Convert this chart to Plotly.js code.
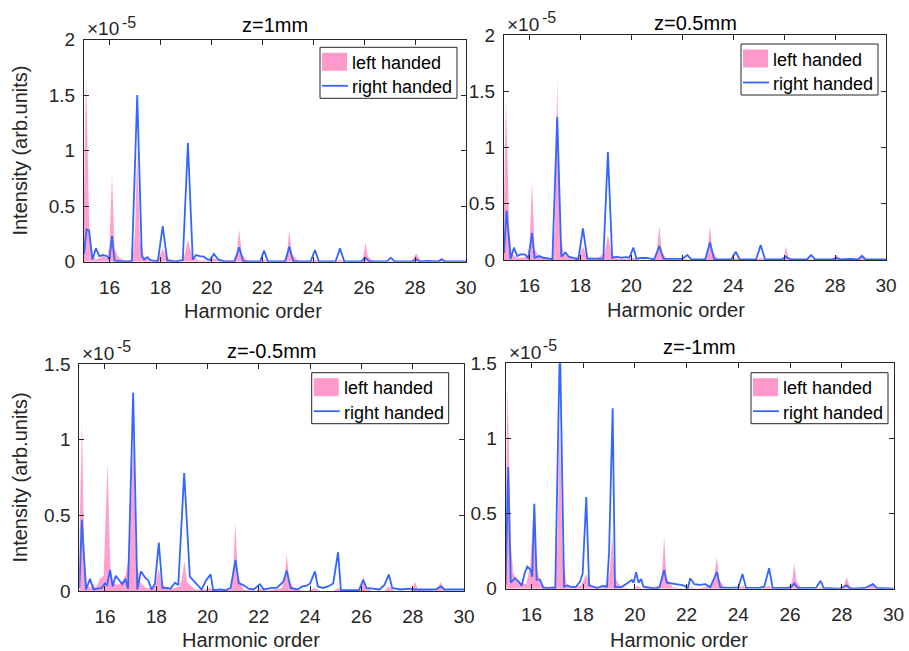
<!DOCTYPE html>
<html>
<head>
<meta charset="utf-8">
<script src="https://cdn.plot.ly/plotly-3.0.1.min.js"></script>
<style>html,body{margin:0;padding:0;background:#fff;}#chart{width:909px;height:651px;}</style>
</head>
<body>
<div id="chart"></div>
<script>
// ---------- data (intensity in units of 1e-5 arb.units) ----------
const panelTitles = ["z=1mm", "z=0.5mm", "z=-0.5mm", "z=-1mm"];
const seriesNames = ["left handed", "right handed"];
const xTickVals = [16, 18, 20, 22, 24, 26, 28, 30];

// z = 1 mm
const hL1 = [15.0,15.08,15.2,15.3,15.45,15.6,15.75,15.9,16.0,16.1,16.2,16.35,16.5,16.7,16.9,17.0,17.09,17.2,17.35,17.5,17.8,17.95,18.09,18.25,18.5,18.8,18.95,19.08,19.25,19.5,19.9,20.1,20.3,20.85,21.0,21.09,21.2,21.4,21.9,22.07,22.3,22.85,22.98,23.06,23.16,23.4,23.9,24.07,24.3,24.9,25.05,25.3,25.85,25.97,26.05,26.14,26.4,26.9,27.05,27.3,27.85,28.04,28.25,28.85,29.04,29.25,30];
const iL1 = [0.6,1.70,0.35,0.08,0.02,0.03,0.05,0.03,0.15,0.78,0.12,0.04,0.02,0.01,0.02,0.25,1.0,0.2,0.05,0.02,0.01,0.04,0.12,0.04,0.01,0.01,0.06,0.2,0.05,0.01,0.01,0.03,0.01,0.01,0.08,0.29,0.07,0.01,0.0,0.02,0.0,0.01,0.08,0.29,0.07,0.01,0.0,0.02,0.0,0.0,0.02,0.0,0.0,0.05,0.17,0.05,0.0,0.0,0.01,0.0,0.0,0.075,0.0,0.0,0.036,0.0,0.0];
const hR1 = [15.0,15.1,15.2,15.33,15.47,15.6,15.76,15.9,16.0,16.1,16.2,16.5,16.88,17.09,17.27,17.36,17.49,17.6,17.9,18.09,18.27,18.6,18.88,19.08,19.27,19.4,19.55,19.7,19.85,19.95,20.1,20.27,20.5,20.92,21.09,21.25,21.92,22.07,22.22,22.9,23.06,23.22,23.9,24.07,24.22,24.88,25.05,25.22,25.9,26.05,26.2,26.9,27.05,27.2,27.9,28.04,28.2,28.5,28.9,29.04,29.2,30];
const iR1 = [0.07,0.29,0.28,0.02,0.12,0.05,0.06,0.05,0.02,0.23,0.01,0.003,0.003,1.50,0.05,0.02,0.04,0.015,0.003,0.32,0.01,0.003,0.015,1.07,0.02,0.06,0.05,0.045,0.02,0.015,0.07,0.02,0.003,0.003,0.13,0.003,0.003,0.10,0.003,0.003,0.135,0.003,0.003,0.105,0.003,0.003,0.12,0.003,0.003,0.036,0.003,0.003,0.036,0.003,0.003,0.02,0.003,0.008,0.003,0.02,0.003,0.003];

// z = 0.5 mm
const hL2 = [15.0,15.08,15.2,15.3,15.5,15.7,15.9,16.0,16.1,16.2,16.3,16.45,16.7,16.9,17.0,17.09,17.2,17.35,17.5,17.7,17.95,18.1,18.25,18.6,18.95,19.08,19.25,19.5,19.9,20.08,20.3,20.9,21.0,21.1,21.2,21.4,21.9,22.1,22.3,22.9,23.0,23.09,23.18,23.4,23.9,24.1,24.3,24.9,25.08,25.3,25.9,26.0,26.07,26.15,26.4,26.9,27.06,27.3,27.85,28.05,28.25,28.85,29.06,29.25,30];
const iL2 = [0.5,1.44,0.3,0.06,0.02,0.02,0.03,0.12,0.70,0.1,0.06,0.02,0.01,0.02,0.3,1.6,0.25,0.05,0.03,0.01,0.04,0.12,0.03,0.01,0.06,0.22,0.04,0.01,0.01,0.02,0.0,0.0,0.08,0.30,0.07,0.01,0.0,0.01,0.0,0.0,0.09,0.31,0.08,0.01,0.0,0.02,0.0,0.0,0.02,0.0,0.0,0.03,0.125,0.03,0.0,0.0,0.01,0.0,0.0,0.044,0.0,0.0,0.053,0.0,0.0];
const hR2 = [15.0,15.1,15.26,15.39,15.52,15.65,15.82,15.96,16.1,16.2,16.39,16.54,16.74,16.9,17.09,17.25,17.41,17.54,17.72,17.92,18.1,18.27,18.6,18.9,19.08,19.25,19.42,19.6,19.8,19.92,20.08,20.2,20.4,20.6,20.9,21.1,21.26,21.6,22.0,22.2,22.35,22.9,23.09,23.25,23.92,24.1,24.25,24.9,25.08,25.25,25.9,26.07,26.25,26.9,27.06,27.22,27.9,28.05,28.2,28.6,28.9,29.06,29.2,30];
const iR2 = [0.06,0.44,0.01,0.11,0.035,0.05,0.05,0.015,0.24,0.02,0.035,0.02,0.015,0.005,1.27,0.03,0.065,0.03,0.018,0.006,0.28,0.012,0.012,0.01,0.96,0.02,0.03,0.02,0.025,0.02,0.11,0.012,0.018,0.018,0.006,0.125,0.012,0.01,0.01,0.045,0.005,0.005,0.157,0.005,0.005,0.074,0.005,0.005,0.133,0.005,0.005,0.03,0.005,0.005,0.044,0.005,0.005,0.018,0.005,0.01,0.005,0.036,0.005,0.005];

// z = -0.5 mm
const hL3 = [15.0,15.1,15.2,15.3,15.45,15.55,15.65,15.8,15.95,16.1,16.22,16.35,16.5,16.65,16.8,16.95,17.1,17.22,17.4,17.6,17.9,18.0,18.1,18.2,18.5,18.9,19.0,19.1,19.2,19.5,19.9,20.1,20.3,20.9,21.0,21.08,21.18,21.4,21.9,22.05,22.3,22.9,23.0,23.09,23.18,23.4,23.9,24.19,24.4,24.9,25.09,25.3,25.9,26.0,26.07,26.15,26.4,26.9,27.07,27.3,27.9,28.0,28.09,28.2,28.9,29.1,29.25,30];
const iL3 = [0.3,1.12,0.2,0.04,0.02,0.05,0.02,0.08,0.1,0.85,0.12,0.05,0.04,0.06,0.1,0.25,1.0,0.2,0.05,0.02,0.02,0.06,0.15,0.05,0.01,0.03,0.08,0.2,0.06,0.01,0.01,0.02,0.0,0.01,0.12,0.46,0.1,0.01,0.0,0.02,0.0,0.02,0.08,0.245,0.07,0.01,0.0,0.02,0.0,0.0,0.02,0.0,0.0,0.03,0.105,0.03,0.0,0.0,0.03,0.0,0.0,0.02,0.062,0.01,0.0,0.06,0.0,0.0];
const hR3 = [15.0,15.1,15.26,15.42,15.55,15.74,15.87,16.0,16.08,16.2,16.3,16.42,16.55,16.68,16.8,16.9,17.1,17.26,17.4,17.56,17.69,17.82,17.95,18.1,18.24,18.4,18.55,18.73,18.86,19.09,19.31,19.44,19.6,19.77,19.94,20.12,20.22,20.5,20.7,20.9,21.09,21.22,21.4,21.6,21.8,22.04,22.2,22.5,22.7,22.95,23.09,23.24,23.5,23.7,23.87,24.0,24.19,24.3,24.5,24.7,24.9,25.09,25.2,25.9,26.07,26.2,26.7,26.9,27.07,27.2,27.5,27.9,28.09,28.5,28.9,29.1,29.25,30];
const iR3 = [0.02,0.47,0.01,0.08,0.01,0.015,0.02,0.05,0.04,0.14,0.03,0.10,0.07,0.045,0.08,0.015,1.31,0.01,0.13,0.09,0.07,0.01,0.05,0.32,0.02,0.02,0.015,0.055,0.04,0.78,0.095,0.07,0.045,0.01,0.07,0.11,0.005,0.01,0.005,0.02,0.205,0.05,0.04,0.015,0.01,0.045,0.01,0.02,0.02,0.06,0.135,0.02,0.01,0.03,0.035,0.05,0.13,0.03,0.02,0.03,0.05,0.256,0.005,0.005,0.073,0.02,0.01,0.04,0.11,0.02,0.01,0.015,0.01,0.01,0.01,0.03,0.01,0.01];

// z = -1 mm
const hL4 = [15.0,15.08,15.2,15.3,15.45,15.6,15.8,15.95,16.1,16.2,16.35,16.6,16.9,17.0,17.1,17.2,17.35,17.6,17.9,18.0,18.12,18.25,18.6,18.9,19.02,19.12,19.22,19.45,19.9,20.1,20.3,20.95,21.05,21.13,21.22,21.45,21.9,22.14,22.4,22.95,23.07,23.17,23.27,23.5,23.9,24.16,24.4,24.9,25.19,25.4,25.95,26.08,26.16,26.25,26.45,27.0,27.18,27.4,27.95,28.08,28.19,28.3,28.5,28.95,29.2,29.4,30];
const iL4 = [0.5,1.34,0.3,0.1,0.06,0.04,0.03,0.15,0.58,0.15,0.03,0.01,0.02,0.3,1.1,0.25,0.03,0.01,0.02,0.05,0.1,0.03,0.0,0.03,0.1,0.36,0.08,0.01,0.0,0.02,0.0,0.02,0.1,0.35,0.08,0.01,0.0,0.01,0.0,0.02,0.08,0.21,0.06,0.0,0.0,0.02,0.0,0.0,0.02,0.0,0.01,0.05,0.17,0.05,0.0,0.0,0.01,0.0,0.0,0.02,0.075,0.02,0.0,0.0,0.04,0.0,0.0];
const hR4 = [15.0,15.1,15.2,15.36,15.49,15.62,15.75,15.84,15.97,16.03,16.11,16.2,16.33,16.46,16.92,17.1,17.26,17.39,17.55,17.72,17.88,17.98,18.12,18.23,18.4,18.55,18.75,18.92,19.0,19.14,19.23,19.5,19.69,19.88,19.95,20.05,20.14,20.24,20.33,20.55,20.8,20.95,21.13,21.23,21.42,21.69,21.88,22.05,22.14,22.3,22.5,22.73,22.91,23.17,23.3,23.7,24.0,24.16,24.3,24.8,25.0,25.19,25.33,25.9,26.05,26.16,26.3,27.0,27.18,27.3,27.9,28.19,28.32,28.9,29.2,29.35,30];
const iR4 = [0.03,0.81,0.04,0.07,0.05,0.02,0.11,0.147,0.125,0.08,0.565,0.06,0.06,0.005,0.005,1.65,0.013,0.022,0.01,0.013,0.047,0.1,0.61,0.022,0.013,0.005,0.018,0.013,0.24,1.2,0.009,0.013,0.035,0.058,0.04,0.11,0.04,0.065,0.013,0.009,0.0,0.009,0.125,0.04,0.035,0.03,0.022,0.005,0.07,0.03,0.025,0.03,0.009,0.11,0.009,0.005,0.009,0.098,0.005,0.005,0.013,0.136,0.005,0.005,0.013,0.035,0.005,0.005,0.053,0.005,0.0,0.022,0.0,0.005,0.03,0.005,0.0];

const yMax = [2, 2, 1.5, 1.5];

// ---------- layout geometry (pixels in a 909 x 651 page) ----------
const W = 909, H = 651;
const fx = v => v / W;
const fy = v => 1 - v / H;
const boxes = [
  {l: 84,    r: 466,   t: 39.5,  b: 261.7},
  {l: 504,   r: 886,   t: 35,    b: 260},
  {l: 79.3,  r: 464,   t: 364,   b: 591},
  {l: 505.6, r: 893.5, t: 363.3, b: 588.7}
];
const legendBoxes = [
  {l: 320,   t: 47.3},
  {l: 741,   t: 44},
  {l: 311.7, t: 372.7},
  {l: 751,   t: 372.7}
];
const LEG_W = 137, LEG_H = 51;
const titleY = [31, 29, 356.7, 353.3];
const xLabelX = [252.5, 676, 251, 679];
const xLabelY = [316.7, 316, 646, 646];

const FONT = "Liberation Sans, Arial, Helvetica, sans-serif";
const INK = "#262626";
const PINK = "rgba(255,135,195,0.78)";
const PINK_PATCH = "#ff99cc";
const BLUE = "#3366ff";

const series = [
  {hL: hL1, iL: iL1, hR: hR1, iR: iR1},
  {hL: hL2, iL: iL2, hR: hR2, iR: iR2},
  {hL: hL3, iL: iL3, hR: hR3, iR: iR3},
  {hL: hL4, iL: iL4, hR: hR4, iR: iR4}
];

const data = [];
const layout = {
  width: W, height: H,
  margin: {l: 0, r: 0, t: 0, b: 0},
  paper_bgcolor: "#fff", plot_bgcolor: "#fff",
  font: {family: FONT, color: INK},
  annotations: [],
  shapes: [],
  showlegend: false
};

function textAt(x, baseline, str, size, color, anchor) {
  layout.annotations.push({
    xref: "paper", yref: "paper", x: fx(x), y: fy(baseline - 0.3 * size),
    xanchor: anchor || "left", yanchor: "middle", showarrow: false,
    text: str, font: {size: size, color: color || INK, family: FONT}
  });
}

series.forEach((s, k) => {
  const n = k + 1;
  const xa = n === 1 ? "x" : "x" + n;
  const ya = n === 1 ? "y" : "y" + n;
  data.push({
    type: "scatter", mode: "lines", x: s.hL, y: s.iL,
    xaxis: xa, yaxis: ya, name: seriesNames[0],
    fill: "tozeroy", fillcolor: PINK, line: {width: 0, color: PINK},
    hoverinfo: "x+y"
  });
  data.push({
    type: "scatter", mode: "lines", x: s.hR, y: s.iR,
    xaxis: xa, yaxis: ya, name: seriesNames[1],
    line: {width: 1.8, color: BLUE}, hoverinfo: "x+y"
  });

  const b = boxes[k];
  layout["xaxis" + (n === 1 ? "" : n)] = {
    domain: [fx(b.l), fx(b.r)], anchor: ya, range: [15, 30],
    tickvals: xTickVals, ticks: "inside", ticklen: 5, tickwidth: 1,
    tickcolor: INK, showline: true, linecolor: INK, linewidth: 1, mirror: "ticks",
    showgrid: false, zeroline: false, tickfont: {size: 19, color: INK, family: FONT},
    ticklabelstandoff: 8, fixedrange: true
  };
  layout["yaxis" + (n === 1 ? "" : n)] = {
    domain: [fy(b.b), fy(b.t)], anchor: xa, range: [0, yMax[k]],
    dtick: 0.5, tick0: 0, ticks: "inside", ticklen: 5, tickwidth: 1,
    tickcolor: INK, showline: true, linecolor: INK, linewidth: 1, mirror: "ticks",
    showgrid: false, zeroline: false, tickfont: {size: 19, color: INK, family: FONT},
    ticklabelstandoff: 4, fixedrange: true
  };

  // legend box (drawn on top of the data, like the reference)
  const L = legendBoxes[k];
  layout.shapes.push({type: "rect", xref: "paper", yref: "paper", layer: "above",
    x0: fx(L.l), x1: fx(L.l + LEG_W), y0: fy(L.t + LEG_H), y1: fy(L.t),
    fillcolor: "#fff", line: {color: INK, width: 1}});
  layout.shapes.push({type: "rect", xref: "paper", yref: "paper", layer: "above",
    x0: fx(L.l + 2), x1: fx(L.l + 27), y0: fy(L.t + 23.5), y1: fy(L.t + 5.5),
    fillcolor: PINK_PATCH, line: {width: 0}});
  layout.shapes.push({type: "line", xref: "paper", yref: "paper", layer: "above",
    x0: fx(L.l + 2), x1: fx(L.l + 28), y0: fy(L.t + 38.5), y1: fy(L.t + 38.5),
    line: {color: BLUE, width: 1.8}});
  textAt(L.l + 30, L.t + 21, seriesNames[0], 18, "#000");
  textAt(L.l + 30, L.t + 45.4, seriesNames[1], 18, "#000");

  // panel title
  textAt((b.l + b.r) / 2, titleY[k], panelTitles[k], 20, "#000", "center");
  // exponent  (x10^-5)
  textAt(b.l + 1, b.t - 5, "×10", 19, INK);
  textAt(b.l + 35.5, b.t - 12.5, "-5", 16, INK);
  // x label
  textAt(xLabelX[k], xLabelY[k], "Harmonic order", 20, INK, "center");
  // y label on left column
  if (k === 0 || k === 2) {
    layout.annotations.push({
      xref: "paper", yref: "paper", x: fx(20), y: fy((b.t + b.b) / 2),
      xanchor: "center", yanchor: "middle", showarrow: false, textangle: -90,
      text: "Intensity (arb.units)", font: {size: 20, color: INK, family: FONT}
    });
  }
});

Plotly.newPlot("chart", data, layout, {displayModeBar: false, responsive: false});
</script>
</body>
</html>
